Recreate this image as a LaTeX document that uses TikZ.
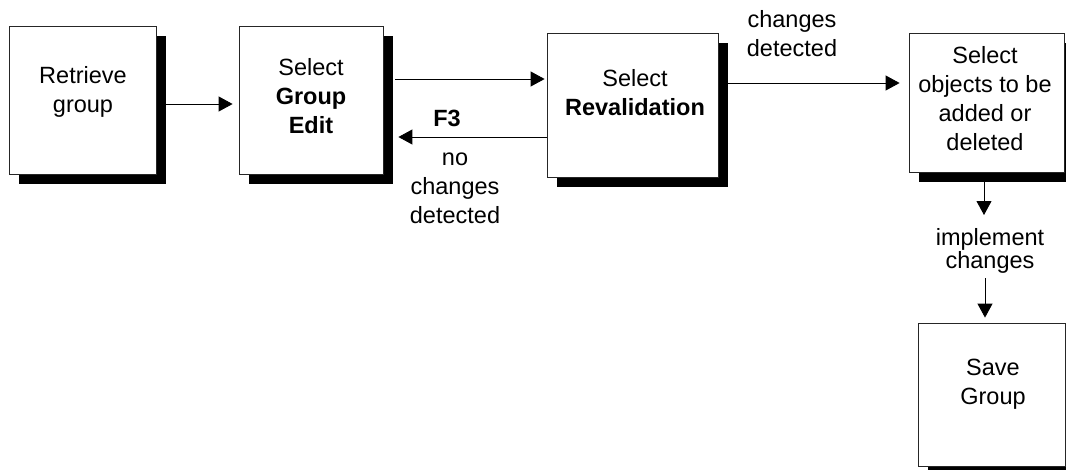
\documentclass[tikz,border=0pt]{standalone}
\usepackage{fontspec}
\setmainfont{Liberation Sans}
\usetikzlibrary{arrows.meta,shadows,calc}
\begin{document}
\begin{tikzpicture}[x=1pt,y=-1pt,
  box/.style={draw=black!85, line width=0.8pt, fill=white, inner sep=0pt,
    general shadow={fill=black, shadow xshift=10pt, shadow yshift=-10pt}},
  txt/.style={align=center, font=\fontsize{23.5}{29}\selectfont, inner sep=0pt},
  txtt/.style={align=center, font=\fontsize{23.5}{23.5}\selectfont, inner sep=0pt},
  arr/.style={line width=0.9pt, -{Triangle[length=14pt,width=15pt]}}]
\useasboundingbox (0,0) rectangle (1066,469);
% boxes
\node[box, minimum width=147pt, minimum height=148pt] (b1) at (82.5,100) {};
\node[box, minimum width=144pt, minimum height=148pt] (b2) at (311,100) {};
\node[box, minimum width=171pt, minimum height=144pt] (b3) at (632.5,105) {};
\node[box, minimum width=155pt, minimum height=139pt] (b4) at (986.5,102.5) {};
\node[box, minimum width=147pt, minimum height=143pt] (b5) at (991.5,394.5) {};
% box texts
\node[txt] (t1) at (83,92) {Retrieve\\group};
\node[txt] (t2) at (311,96) {Select\\\textbf{Group}\\\textbf{Edit}};
\node[txt] (t3) at (635,93) {Select\\\textbf{Revalidation}};
\node[txt] (t4) at (985,99) {Select\\objects to be\\added or\\deleted};
\node[txt] (t5) at (993,384) {Save\\Group};
% labels
\node[txt] (l1) at (792,34) {changes\\detected};
\node[txt] (l2) at (447,118) {\textbf{F3}};
\node[txt] (l3) at (455,188) {no\\changes\\detected};
\node[txtt] (l4) at (990,251) {implement\\changes};
% connectors
\draw[arr] ([xshift=10pt,yshift=-4pt]b1.east) -- ([xshift=-6pt,yshift=-4pt]b2.west);
\draw[arr] ([xshift=12pt,yshift=21pt]b2.east) -- ([xshift=-2pt,yshift=26pt]b3.west);
\draw[arr] ([yshift=-32pt]b3.west) -- ([xshift=15pt,yshift=-37pt]b2.east);
\draw[arr] ([xshift=10pt,yshift=22pt]b3.east) -- ([xshift=-9pt,yshift=19.5pt]b4.west);
\coordinate (c1) at (984,215);
\draw[arr] ([yshift=-10pt]b4.south -| c1) -- (c1);
\coordinate (c2) at (985,278);
\draw[arr] (c2) -- ([yshift=5pt]b5.north -| c2);
\end{tikzpicture}
\end{document}
